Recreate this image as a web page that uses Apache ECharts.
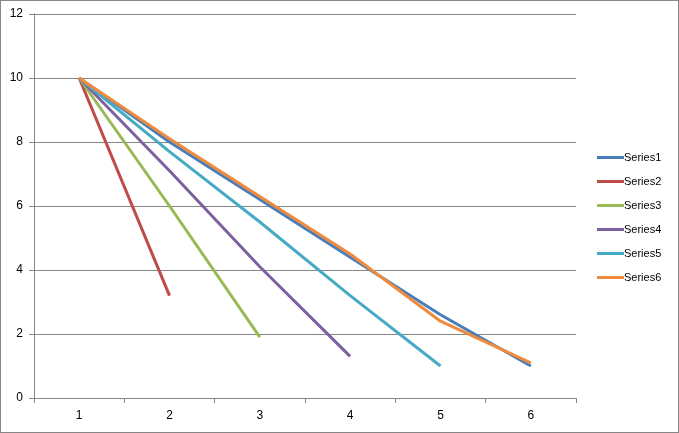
<!DOCTYPE html>
<html>
<head>
<meta charset="utf-8">
<script src="https://cdn.jsdelivr.net/npm/echarts@6/dist/echarts.min.js"></script>
<style>
html,body{margin:0;padding:0;background:#fff;}
#c{width:679px;height:433px;box-sizing:border-box;border:1px solid #868686;}
</style>
</head>
<body>
<div id="c"></div>
<script>
var categories = ['1','2','3','4','5','6'];
var seriesNames = ['Series1','Series2','Series3','Series4','Series5','Series6'];
var series1 = [10, 8.0, 6.2, 4.4, 2.6, 1.0];
var series2 = [10, 3.2, null, null, null, null];
var series3 = [10, 6.0, 1.9, null, null, null];
var series4 = [10, 7.1, 4.1, 1.3, null, null];
var series5 = [10, 7.7, 5.5, 3.2, 1.0, null];
var series6 = [10, 8.1, 6.3, 4.5, 2.4, 1.1];
var colors = ['#4A7EBB','#BE4B48','#98B954','#7D60A0','#46AAC5','#F08A3C'];
var allData = [series1, series2, series3, series4, series5, series6];

var chart = echarts.init(document.getElementById('c'), null, {renderer:'canvas'});
var font = 'Liberation Sans, Arial, sans-serif';
chart.setOption({
  animation: false,
  color: colors,
  grid: {left: 33, right: 102, top: 13, bottom: 34, containLabel: false},
  legend: {
    orient: 'vertical',
    left: 591,
    top: 146,
    itemGap: 13,
    itemWidth: 27,
    itemHeight: 3,
    icon: 'rect',
    textStyle: {fontFamily: font, fontSize: 11, color: '#000', padding: [0,0,0,-5]},
    data: seriesNames
  },
  xAxis: {
    type: 'category',
    data: categories,
    boundaryGap: true,
    axisLine: {lineStyle: {color: '#868686', width: 1}},
    axisTick: {show: true, length: 5, lineStyle: {color: '#868686'}},
    axisLabel: {fontFamily: font, fontSize: 12, color: '#000', margin: 12}
  },
  yAxis: {
    type: 'value',
    min: 0, max: 12, interval: 2,
    axisLine: {show: true, lineStyle: {color: '#868686', width: 1}},
    axisTick: {show: true, length: 5, lineStyle: {color: '#868686'}},
    splitLine: {lineStyle: {color: '#868686', width: 1}},
    axisLabel: {fontFamily: font, fontSize: 12, color: '#000', margin: 11}
  },
  series: allData.map(function(d, i){
    return {
      name: seriesNames[i],
      type: 'line',
      data: d,
      symbol: 'none',
      connectNulls: false,
      lineStyle: {width: 3, color: colors[i]},
      itemStyle: {color: colors[i]}
    };
  })
});
</script>
</body>
</html>
